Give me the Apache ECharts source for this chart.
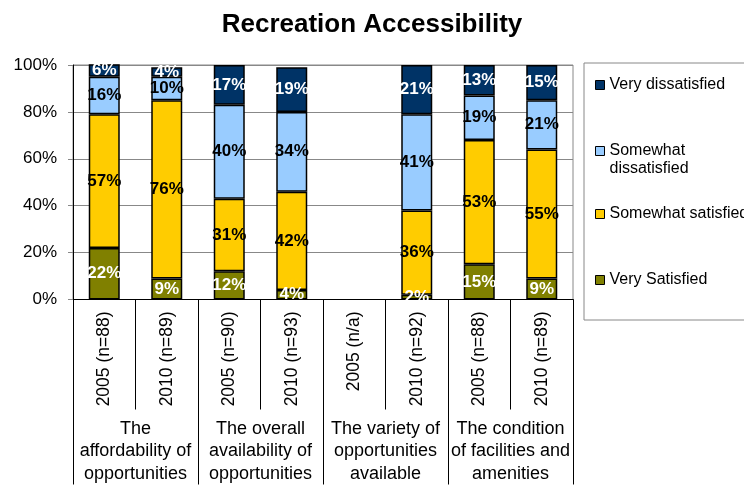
<!DOCTYPE html>
<html>
<head>
<meta charset="utf-8">
<script src="https://cdn.jsdelivr.net/npm/echarts@6/dist/echarts.min.js"></script>
<style>
html, body { margin: 0; padding: 0; background: #fff; }
#main { width: 744px; height: 485px; }
</style>
</head>
<body>
<div id="main"></div>
<script>
var years = ['2005 (n=88)', '2010 (n=89)', '2005 (n=90)', '2010 (n=93)', '2005 (n/a)', '2010 (n=92)', '2005 (n=88)', '2010 (n=89)'];
var groups = ['The\naffordability of\nopportunities', 'The overall\navailability of\nopportunities', 'The variety of\nopportunities\navailable', 'The condition\nof facilities and\namenities'];
var verySatisfied = [22, 9, 12, 4, null, 2, 15, 9];
var somewhatSatisfied = [57, 76, 31, 42, null, 36, 53, 55];
var somewhatDissatisfied = [16, 10, 40, 34, null, 41, 19, 21];
var veryDissatisfied = [6, 4, 17, 19, null, 21, 13, 15];

var font = 'Liberation Sans, Arial, sans-serif';
var dom = document.getElementById('main');
var myChart = echarts.init(dom);

function barSeries(name, data, color, labelColor) {
    return {
        name: name,
        type: 'bar',
        stack: 'total',
        barWidth: 31,
        data: data,
        itemStyle: { color: color, borderColor: '#000', borderWidth: 1.5 },
        label: {
            show: true,
            position: 'inside',
            formatter: '{c}%',
            color: labelColor,
            fontFamily: font,
            fontWeight: 'bold',
            fontSize: 17
        }
    };
}

function legendAt(name, top, formatter) {
    return {
        data: [name],
        left: 595,
        top: top,
        padding: 0,
        icon: 'rect',
        itemWidth: 9,
        itemHeight: 9,
        itemStyle: { borderColor: '#000', borderWidth: 1 },
        selectedMode: false,
        formatter: formatter,
        textStyle: { fontFamily: font, fontSize: 16, color: '#000', lineHeight: 18 }
    };
}

var option = {
    animation: false,
    title: {
        text: 'Recreation Accessibility',
        left: 'center',
        top: 7,
        textStyle: { fontFamily: font, fontSize: 26, fontWeight: 'bold', color: '#000' }
    },
    legend: [
        legendAt('Very dissatisfied', 76),
        legendAt('Somewhat\ndissatisfied', 124, function (name) { return ' \n' + name; }),
        legendAt('Somewhat satisfied', 205),
        legendAt('Very Satisfied', 271)
    ],
    graphic: [{
        type: 'rect',
        shape: { x: 584, y: 63, width: 162, height: 257 },
        style: { fill: 'none', stroke: '#888', lineWidth: 1 }
    }],
    grid: {
        left: 73, right: 171, top: 65, bottom: 185,
        show: true, borderColor: '#888', borderWidth: 1
    },
    xAxis: [{
        type: 'category',
        data: years,
        axisLine: { lineStyle: { color: '#000', width: 1 } },
        axisTick: { show: true, interval: 0, length: 110, lineStyle: { color: '#000' } },
        axisLabel: { interval: 0, rotate: 90, margin: 12, fontFamily: font, fontSize: 17.5, color: '#000' }
    }, {
        type: 'category',
        data: groups,
        position: 'bottom',
        axisLine: { show: false },
        axisTick: { show: true, interval: 0, length: 185, lineStyle: { color: '#000' } },
        axisLabel: { interval: 0, margin: 118, fontFamily: font, fontSize: 18, lineHeight: 22.5, color: '#000' }
    }],
    yAxis: {
        type: 'value',
        min: 0,
        max: 100,
        interval: 20,
        axisLine: { show: true, lineStyle: { color: '#000' } },
        axisTick: { show: true, length: 5, lineStyle: { color: '#888' } },
        splitLine: { lineStyle: { color: '#888', width: 1 } },
        axisLabel: { formatter: '{value}%', margin: 16, fontFamily: font, fontSize: 17, color: '#000' }
    },
    series: [
        barSeries('Very Satisfied', verySatisfied, '#808000', '#fff'),
        barSeries('Somewhat satisfied', somewhatSatisfied, '#ffcc00', '#000'),
        barSeries('Somewhat\ndissatisfied', somewhatDissatisfied, '#99ccff', '#000'),
        barSeries('Very dissatisfied', veryDissatisfied, '#003366', '#fff')
    ]
};

if (option && typeof option === 'object') {
    myChart.setOption(option, true);
}
</script>
</body>
</html>
